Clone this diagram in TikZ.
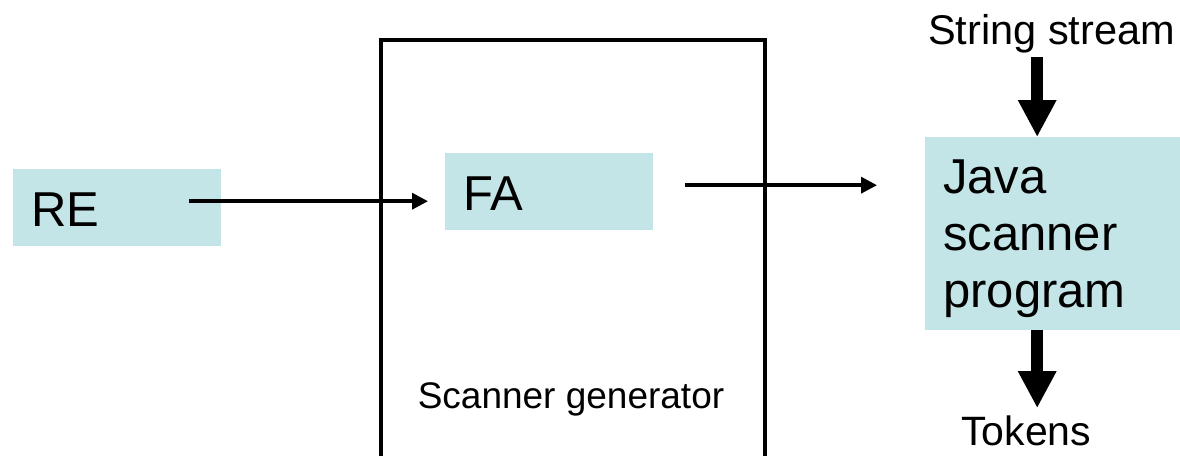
\documentclass[tikz,border=0pt]{standalone}
\usepackage{fontspec}
\setmainfont{Liberation Sans}
\usetikzlibrary{positioning,arrows.meta}
\definecolor{boxfill}{RGB}{196,229,231}

\begin{document}
\begin{tikzpicture}[
  x=1pt, y=-1pt,
  font=\fontsize{49}{57}\selectfont,
  blk/.style={fill=boxfill, inner xsep=18pt, inner ysep=0pt, align=left, anchor=north west},
  gen/.style={draw, line width=3.5pt, outer sep=0pt, anchor=north west, minimum width=384pt, minimum height=440pt},
  lbl/.style={inner sep=0pt, font=\fontsize{41}{49}\selectfont, anchor=base west},
  arr/.style={-{Triangle[length=16pt,width=16pt]}, line width=3.5pt},
  fat/.style={-{Triangle[length=37pt,width=36pt]}, line width=11.5pt}
]
  \useasboundingbox (0,0) rectangle (1180,455);

  \node[gen] (gen) at (381,40) {};
  \node[inner sep=0pt, font=\fontsize{37}{44}\selectfont, anchor=base] (genlbl) at (571,408) {Scanner generator};

  \node[blk, text width=172pt, text height=37pt, minimum height=77pt] (re) at (13,169) {RE};
  \node[blk, text width=172pt, text height=37pt, minimum height=77pt] (fa) at (445,153) {FA};
  \node[blk, text width=219pt, text height=43pt, minimum height=193pt] (java) at (925,137) {Java\\scanner\\program};

  \node[lbl, font=\fontsize{41.5}{49}\selectfont] (ss) at (928,44) {String stream};
  \node[lbl] (tok) at (961,445) {Tokens};

  \coordinate (jin) at ([xshift=-15.5pt]java.north);
  \coordinate (jout) at ([xshift=-15.5pt]java.south);

  \draw[arr] ([xshift=-32pt,yshift=6.5pt]re.east) -- ([xshift=-17pt,yshift=-9.5pt]fa.west);
  \draw[arr] ([xshift=32pt,yshift=6.5pt]fa.east) -- ([xshift=-48pt,yshift=48.5pt]java.west);
  \draw[fat, shorten <=4pt] (ss.south -| jin) -- (jin);
  \draw[fat, shorten >=7pt] (jout) -- (tok.north -| jout);
\end{tikzpicture}
\end{document}
